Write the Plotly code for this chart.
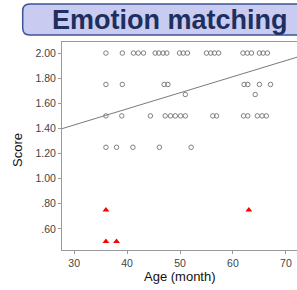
import plotly.graph_objects as go

# ---- data ----
circle_age = [36.0, 39.1, 41.2, 42.1, 43.1, 45.3, 46.0, 46.8, 47.5, 49.9, 50.6, 51.4,
              55.0, 55.8, 56.5, 57.3, 61.9, 62.7, 63.5, 65.0, 65.7, 66.5,
              36.0, 39.1, 47.0, 47.7, 62.1, 62.8, 65.0, 67.1,
              51.0, 64.2,
              36.0, 39.0, 44.4, 47.2, 48.2, 49.1, 50.1, 51.0, 56.2, 56.9,
              62.0, 62.8, 64.6, 65.5, 66.3,
              36.0, 38.0, 41.1, 46.1, 52.1]
circle_score = [2.00] * 22 + [1.75] * 8 + [1.67] * 2 + [1.50] * 15 + [1.25] * 5

triangle_age = [36.0, 36.0, 38.0, 63.0]
triangle_score = [0.75, 0.50, 0.50, 0.75]

fit_age = [27.7, 72.1]
fit_score = [1.398, 1.967]

y_tickvals = [0.6, 0.8, 1.0, 1.2, 1.4, 1.6, 1.8, 2.0]
y_ticktext = [".60", ".80", "1.00", "1.20", "1.40", "1.60", "1.80", "2.00"]
x_tickvals = [30, 40, 50, 60, 70]

title_text = "Emotion matching"
x_title = "Age (month)"
y_title = "Score"

# ---- layout geometry (pixels) ----
W, H = 297, 290
PL, PR, PT, PB = 62, 297, 42, 250          # plot area
L, T = PL, PT
R = W - PR
B = H - PB
PW, PH = PR - PL, PB - PT


def px(x):
    return (x - PL) / PW


def py(y):
    return (PB - y) / PH


FONT = "Liberation Sans, Arial, sans-serif"

fig = go.Figure()
fig.add_trace(go.Scatter(x=fit_age, y=fit_score, mode="lines",
                         line=dict(color="#7a7a7a", width=1), hoverinfo="skip"))
fig.add_trace(go.Scatter(x=circle_age, y=circle_score, mode="markers",
                         marker=dict(symbol="circle-open", size=4.5,
                                     color="#7f7f7f", line=dict(width=1, color="#7f7f7f"))))
fig.add_trace(go.Scatter(x=triangle_age, y=triangle_score, mode="markers",
                         marker=dict(symbol="triangle-up", size=6, color="#ff0000",
                                     line=dict(width=0))))

# rounded title box
x0, x1, y0, y1 = px(22.7), px(310), py(4), py(35)
rx, ry = 7 / PW, 7 / PH
path = (f"M {x0 + rx},{y0} L {x1 - rx},{y0} Q {x1},{y0} {x1},{y0 - ry} "
        f"L {x1},{y1 + ry} Q {x1},{y1} {x1 - rx},{y1} L {x0 + rx},{y1} "
        f"Q {x0},{y1} {x0},{y1 + ry} L {x0},{y0 - ry} Q {x0},{y0} {x0 + rx},{y0} Z")
fig.add_shape(type="path", path=path, xref="paper", yref="paper",
              fillcolor="#c9cbf1", line=dict(color="#3b5494", width=1.5), layer="above")

fig.add_annotation(text=f"<b>{title_text}</b>", xref="paper", yref="paper",
                   x=px(50), y=py(19.5), xanchor="left", yanchor="middle",
                   showarrow=False, font=dict(family=FONT, size=27, color="#1d2f5e"))
fig.add_annotation(text=x_title, xref="paper", yref="paper",
                   x=px(180), y=py(276), xanchor="center", yanchor="middle",
                   showarrow=False, font=dict(family=FONT, size=13, color="#111111"))
fig.add_annotation(text=y_title, xref="paper", yref="paper", textangle=-90,
                   x=px(17), y=py(150), xanchor="center", yanchor="middle",
                   showarrow=False, font=dict(family=FONT, size=13, color="#111111"))

fig.update_layout(
    width=W, height=H, margin=dict(l=L, r=R, t=T, b=B, pad=0),
    paper_bgcolor="white", plot_bgcolor="white", showlegend=False,
    font=dict(family=FONT, size=10.5, color="#444444"),
    xaxis=dict(range=[27.7, 72.1], tickvals=x_tickvals, showgrid=False, zeroline=False,
               showline=True, linecolor="#9a9a9a", linewidth=1, mirror=True,
               ticks="outside", ticklen=3, tickcolor="#9a9a9a"),
    yaxis=dict(range=[0.432, 2.088], tickvals=y_tickvals, ticktext=y_ticktext,
               showgrid=False, zeroline=False,
               showline=True, linecolor="#9a9a9a", linewidth=1,
               ticks="outside", ticklen=3, tickcolor="#9a9a9a"),
)

fig.write_html("out.html", config={"displayModeBar": False},
               post_script="document.body.style.margin='0px';")
